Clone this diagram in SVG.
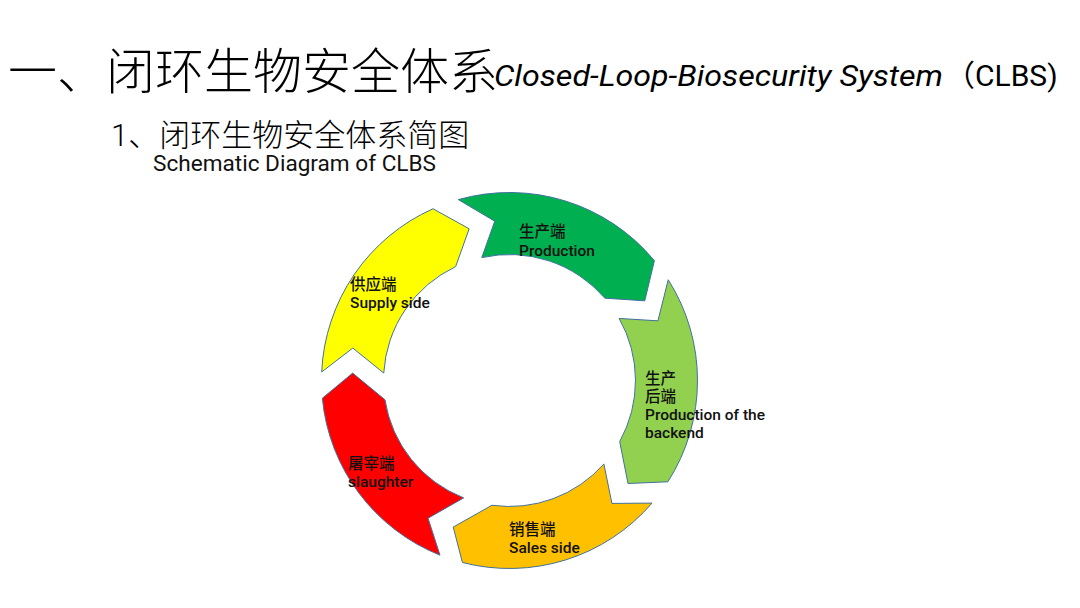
<svg xmlns="http://www.w3.org/2000/svg" width="1080" height="608" viewBox="0 0 1080 608">
<style>
.seg{stroke:#41719C;stroke-width:1;stroke-linejoin:miter}
.cjk{font-family:Roboto,"Noto Sans CJK SC",sans-serif}
.lbl{font-family:Roboto,"Noto Sans CJK SC",sans-serif;font-size:15.5px;font-weight:500;fill:#111}
</style>
<rect width="1080" height="608" fill="#ffffff"/>
<g id="title">
<text class="cjk" x="8" y="89" font-size="49" font-weight="300" fill="#000">一、闭环生物安全体系</text>
<text x="494" y="86" font-family="Roboto,'Liberation Sans',sans-serif" font-style="italic" font-size="30" fill="#000" textLength="449" lengthAdjust="spacingAndGlyphs">Closed-Loop-Biosecurity System</text>
<text class="cjk" x="945" y="86" font-size="30" fill="#000">（CLBS)</text>
</g>
<g id="subtitle">
<text class="cjk" x="111" y="146" font-size="31" font-weight="300" fill="#000">1、闭环生物安全体系简图</text>
<text x="153" y="171" font-family="Roboto,'Liberation Sans',sans-serif" font-size="21.5" fill="#111" textLength="283" lengthAdjust="spacingAndGlyphs">Schematic Diagram of CLBS</text>
</g>
<g id="connectors"></g>
<g id="production">
<path class="seg" fill="#00B050" d="M458.31,199.60 A188,188 0 0 1 654.36,260.66 L644.78,300.82 L604.88,298.17 A126,126 0 0 0 481.80,257.58 L494.72,221.18 Z"/>
<text class="lbl" x="519" y="237">生产端</text>
<text class="lbl" x="519" y="256">Production</text>
</g>
<g id="backend">
<path class="seg" fill="#92D050" d="M668.23,279.76 A188,188 0 0 1 667.88,481.79 L627.99,483.50 L619.70,441.59 A126,126 0 0 0 619.17,318.46 L657.95,320.82 Z"/>
<text class="lbl" x="645" y="384">生产</text>
<text class="lbl" x="645" y="402">后端</text>
<text class="lbl" x="645" y="420">Production of the</text>
<text class="lbl" x="645" y="438">backend</text>
</g>
<g id="sales">
<path class="seg" fill="#FFC000" d="M652.03,503.09 A188,188 0 0 1 462.43,562.51 L453.24,527.07 L491.96,505.27 A126,126 0 0 0 603.87,463.99 L611.92,503.42 Z"/>
<text class="lbl" x="509" y="535">销售端</text>
<text class="lbl" x="509" y="553" font-weight="400" fill="#222">Sales side</text>
</g>
<g id="slaughter">
<path class="seg" fill="#FF0000" d="M439.99,555.18 A188,188 0 0 1 322.33,398.19 L352.67,373.10 L384.98,399.78 A126,126 0 0 0 463.73,497.89 L428.05,518.22 Z"/>
<text class="lbl" x="348" y="469">屠宰端</text>
<text class="lbl" x="348" y="487">slaughter</text>
</g>
<g id="supply">
<path class="seg" fill="#FFFF00" d="M321.69,371.97 A188,188 0 0 1 433.03,208.75 L469.13,228.78 L455.65,266.59 A126,126 0 0 0 383.72,373.03 L352.82,348.05 Z"/>
<text class="lbl" x="350" y="290">供应端</text>
<text class="lbl" x="350" y="308" fill="#1F2D5A">Supply side</text>
</g>
</svg>
